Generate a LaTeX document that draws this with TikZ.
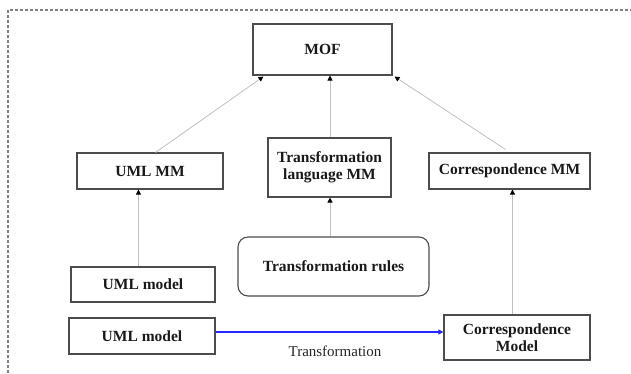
\documentclass[tikz,border=0pt]{standalone}
\usepackage{fontspec}
\setmainfont{Liberation Serif}
\usetikzlibrary{arrows.meta,calc}
\begin{document}
\begin{tikzpicture}[x=1pt,y=-1pt,
  box/.style={draw=black!70,line width=1.1pt,fill=white,inner sep=0pt,align=center,
    font=\fontsize{15.5}{17}\selectfont\bfseries,text=black!90},
  conn/.style={draw=black!25,line width=0.8pt,
    -{Triangle[length=5pt,width=5pt,color=black]}},
  flow/.style={draw=blue!85!white,line width=1.1pt,
    -{Triangle[length=5pt,width=5pt]}},
  frame/.style={draw=black!50,line width=1.1pt,dash pattern=on 3pt off 2pt}]
\useasboundingbox (0,0) rectangle (631,373);
% open dashed frame
\draw[frame] (8,373) -- (8,10) -- (631,10);

% metamodel layer
\node[box,minimum width=139pt,minimum height=51pt] (mof) at (322.5,49.5) {MOF};
\node[box,minimum width=146pt,minimum height=36pt] (umlmm) at (150,171) {UML MM};
\node[box,minimum width=123pt,minimum height=59pt] (tlmm) at (329.5,167.5) {Transformation\\language MM};
\node[box,minimum width=161pt,minimum height=36pt] (cmm) at (509.5,171) {Correspondence MM};

% model layer
\node[box,minimum width=144pt,minimum height=35pt] (m1) at (143,284.5) {UML model};
\node[box,minimum width=146pt,minimum height=36pt] (m2) at (142,336) {UML model};
\node[box,rounded corners=10pt,minimum width=191pt,minimum height=59pt] (tr) at (333.5,266.5) {Transformation rules};
\node[box,minimum width=146pt,minimum height=45pt] (cm) at (517,337.5) {Correspondence\\Model};

% conformance links
\coordinate (u1) at ([xshift=79pt]umlmm.north west);
\coordinate (mofL) at ([xshift=11pt,yshift=-1pt]mof.south west);
\draw[conn] (u1) -- (mofL);
\draw[conn] (tlmm.north -| 330,0) -- (mof.south -| 330,0);
\coordinate (c1) at ([xshift=77pt,yshift=3pt]cmm.north west);
\coordinate (mofR) at ([xshift=2pt,yshift=-1pt]mof.south east);
\draw[conn] (c1) -- (mofR);

\coordinate (m1t) at ([xshift=68pt]m1.north west);
\draw[conn] (m1t) -- (m1t |- umlmm.south);
\draw[conn] (tr.north -| 330,0) -- (tlmm.south -| 330,0);
\coordinate (cmt) at ([xshift=69pt]cm.north west);
\draw[conn] (cmt) -- (cmt |- cmm.south);

% transformation
\coordinate (m2e) at ([yshift=4pt]m2.east);
\draw[flow] (m2e) -- (m2e -| cm.west);
\node[font=\fontsize{15}{17}\selectfont,text=black!85] (lbl) at (335,351) {Transformation};
\end{tikzpicture}
\end{document}
